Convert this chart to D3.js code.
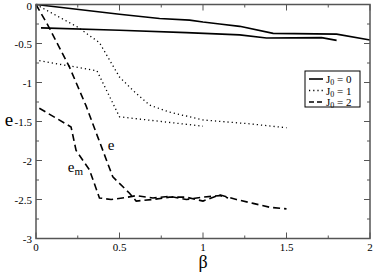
<!DOCTYPE html>
<html>
<head>
<meta charset="utf-8">
<script src="https://cdn.jsdelivr.net/npm/d3@7"></script>
<style>
  body { margin: 0; background: #fff; }
</style>
</head>
<body>
<script>
// J0 = 0 (solid)
const solidE = [[0, 0], [0.5, -0.125], [0.74, -0.18], [0.92, -0.2], [1.0, -0.225], [1.1, -0.25], [1.22, -0.28], [1.42, -0.37], [1.8, -0.38], [2.0, -0.455]];
const solidEm = [[0.03, -0.30], [0.5, -0.33], [0.9, -0.36], [1.22, -0.39], [1.38, -0.43], [1.71, -0.425], [1.8, -0.46]];
// J0 = 1 (dotted)
const dotE = [[0, 0], [0.25, -0.29], [0.38, -0.49], [0.5, -0.93], [0.58, -1.10], [0.68, -1.29], [0.8, -1.38], [1.0, -1.48], [1.28, -1.53], [1.5, -1.58]];
const dotEm = [[0.02, -0.72], [0.365, -0.85], [0.5, -1.44], [0.75, -1.5], [1.0, -1.56]];
// J0 = 2 (dashed)
const dashE = [[0, 0], [0.07, -0.26], [0.2, -0.8], [0.3, -1.3], [0.37, -1.7], [0.46, -2.21], [0.56, -2.42], [0.6, -2.52], [0.7, -2.5], [0.8, -2.47], [0.9, -2.47], [1.0, -2.52], [1.1, -2.44], [1.2, -2.5], [1.3, -2.55], [1.4, -2.6], [1.5, -2.62]];
const dashEm = [[0.02, -1.33], [0.21, -1.57], [0.24, -1.87], [0.32, -2.12], [0.38, -2.48], [0.45, -2.5], [0.55, -2.47], [0.6, -2.45], [0.7, -2.48], [0.8, -2.46], [0.9, -2.5], [1.0, -2.47], [1.1, -2.45], [1.15, -2.48]];

const xTicks = [0, 0.5, 1, 1.5, 2];
const yTicks = [0, -0.5, -1, -1.5, -2, -2.5, -3];
const legendLabels = ["0", "1", "2"];

const width = 374, height = 276;
const mLeft = 36, mRight = 370, mTop = 4.5, mBottom = 238.5;

const svg = d3.select("body").append("svg")
    .attr("width", width)
    .attr("height", height)
    .attr("font-family", "'Liberation Serif', 'Times New Roman', 'DejaVu Serif', serif");

const x = d3.scaleLinear().domain([0, 2]).range([mLeft, mRight]);
const y = d3.scaleLinear().domain([-3, 0]).range([mBottom, mTop]);

const line = d3.line().x(d => x(d[0])).y(d => y(d[1]));

const series = [
    { data: solidE, dash: null },
    { data: solidEm, dash: null },
    { data: dotE, dash: "1.2,3" },
    { data: dotEm, dash: "1.2,3" },
    { data: dashE, dash: "7,4" },
    { data: dashEm, dash: "7,4" }
];

series.forEach(s => {
    svg.append("path")
        .attr("d", line(s.data))
        .attr("fill", "none")
        .attr("stroke", "#000")
        .attr("stroke-width", s.dash === "1.2,3" ? 1.3 : 1.6)
        .attr("stroke-dasharray", s.dash);
});

// frame and ticks
const axisColor = "#555";
svg.append("rect")
    .attr("x", mLeft).attr("y", mTop)
    .attr("width", mRight - mLeft).attr("height", mBottom - mTop)
    .attr("fill", "none").attr("stroke", axisColor).attr("stroke-width", 1.5);

const xMinor = d3.range(0, 2.01, 0.25);
const yMinor = d3.range(-3, 0.01, 0.25);

xMinor.forEach(v => {
    const len = xTicks.some(t => Math.abs(t - v) < 1e-6) ? 6 : 3;
    svg.append("line").attr("x1", x(v)).attr("x2", x(v)).attr("y1", mBottom).attr("y2", mBottom - len)
        .attr("stroke", axisColor).attr("stroke-width", 1);
    svg.append("line").attr("x1", x(v)).attr("x2", x(v)).attr("y1", mTop).attr("y2", mTop + len)
        .attr("stroke", axisColor).attr("stroke-width", 1);
});
yMinor.forEach(v => {
    const len = yTicks.some(t => Math.abs(t - v) < 1e-6) ? 6 : 3;
    svg.append("line").attr("y1", y(v)).attr("y2", y(v)).attr("x1", mLeft).attr("x2", mLeft + len)
        .attr("stroke", axisColor).attr("stroke-width", 1);
    svg.append("line").attr("y1", y(v)).attr("y2", y(v)).attr("x1", mRight).attr("x2", mRight - len)
        .attr("stroke", axisColor).attr("stroke-width", 1);
});

xTicks.forEach(v => {
    svg.append("text")
        .attr("x", x(v)).attr("y", mBottom + 12)
        .attr("text-anchor", "middle")
        .style("font-size", "11px")
        .text(v);
});
yTicks.forEach(v => {
    svg.append("text")
        .attr("x", mLeft - 4).attr("y", Math.max(y(v) + 4, 10))
        .attr("text-anchor", "end")
        .style("font-size", "11px")
        .text(v);
});

// axis titles
svg.append("text").attr("x", 9).attr("y", y(-1.5) + 4)
    .attr("text-anchor", "middle").style("font-size", "19px").text("e");
svg.append("text").attr("x", x(1)).attr("y", 268)
    .attr("text-anchor", "middle").style("font-size", "18px").text("β");

// curve labels
svg.append("text").attr("x", x(0.43)).attr("y", y(-1.86)).style("font-size", "15px").text("e");
const em = svg.append("text").attr("x", x(0.19)).attr("y", y(-2.15)).style("font-size", "15px");
em.append("tspan").text("e");
em.append("tspan").attr("dy", 3).style("font-size", "11px").text("m");

// legend
const lg = svg.append("g").attr("transform", "translate(305,71)");
lg.append("rect").attr("width", 55).attr("height", 36)
    .attr("fill", "#fff").attr("stroke", "#000").attr("stroke-width", 1);
const dashes = [null, "1.2,3", "5,3"];
legendLabels.forEach((lab, i) => {
    const yy = 8 + i * 11.5;
    lg.append("line").attr("x1", 4).attr("x2", 18).attr("y1", yy).attr("y2", yy)
        .attr("stroke", "#000").attr("stroke-width", 1.6).attr("stroke-dasharray", dashes[i]);
    const t = lg.append("text").attr("x", 21).attr("y", yy + 4).style("font-size", "11px");
    t.append("tspan").text("J");
    t.append("tspan").attr("dy", 2).style("font-size", "8px").text("0");
    t.append("tspan").attr("dy", -2).text(" = " + lab);
});
</script>
</body>
</html>
